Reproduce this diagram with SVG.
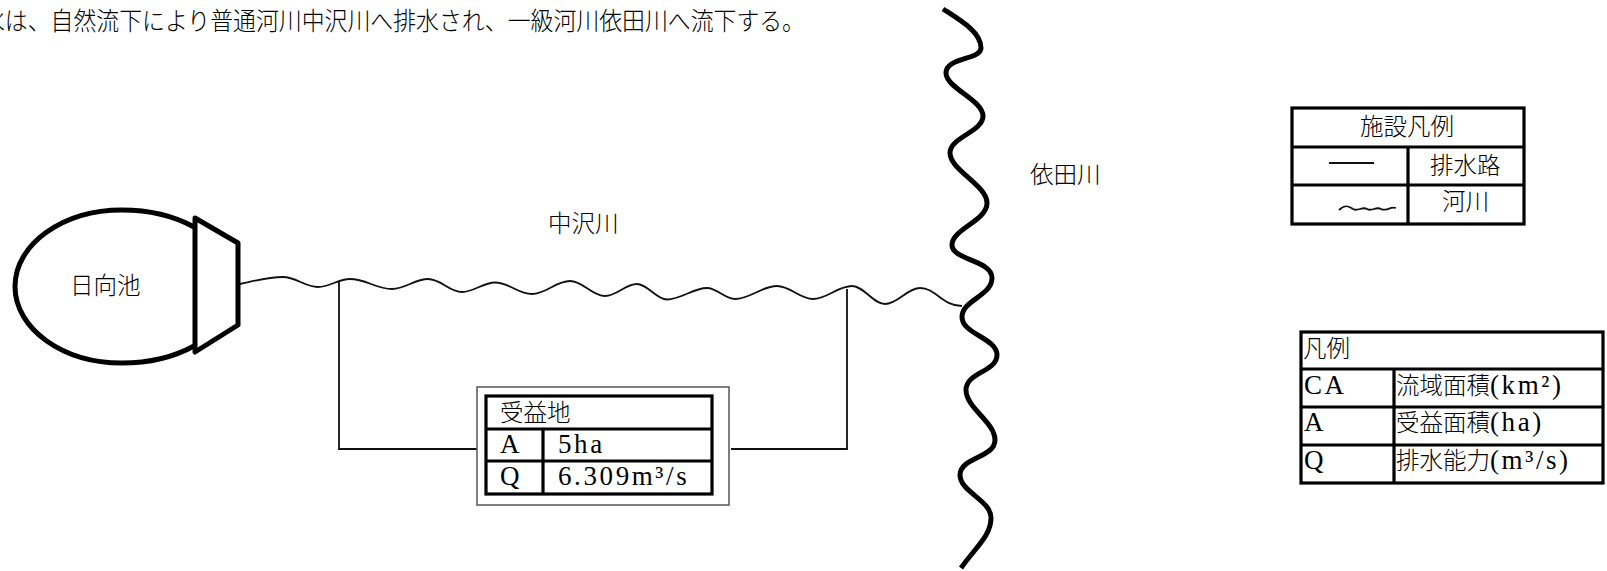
<svg xmlns="http://www.w3.org/2000/svg" width="1607" height="571" viewBox="0 0 1607 571">
<style>
text{font-family:"Noto Sans CJK JP","Noto Sans CJK SC",sans-serif;font-size:23.5px;font-weight:300;fill:#000}
.l{font-family:"Liberation Serif","Noto Sans CJK JP",serif;font-size:27px;font-weight:400;letter-spacing:2.6px}
.cell{fill:none;stroke:#000;stroke-width:3.2}
.thin{fill:none;stroke:#111;stroke-width:1.8}
.thick{fill:none;stroke:#000;stroke-width:5;stroke-linejoin:round}
</style>
<rect width="1607" height="571" fill="#fff"/>
<text id="caption" x="-18" y="30" font-size="25" style="font-size:25px" textLength="823" lengthAdjust="spacingAndGlyphs">水は、自然流下により普通河川中沢川へ排水され、一級河川依田川へ流下する。</text>
<g id="connectors">
<path id="nakazawa" class="thin" d="M240 284C258 280 268 277 283 277C296 277 305 287 318 287C330 287 338 279 350 279C366 279 376 289 392 289C405 289 415 279 428 279C441 279 449 292 462 292C474 292 483 282.500 495 282.500C509 282.500 518 294 532 294C546 294 556 281 570 281C583 281 592 296 605 296C617 296 625 284 637 284C648 284 656 299.500 667 299.500C681 299.500 693 288 707 288C717 288 725 299 735 299C750 299 762 286 777 286C790 286 800 299 813 299C827 299 838 286 852 286C864 286 873 304 885 304C898 304 907 288 920 288C936 288 942 306 962 306"/>
<path class="thin" d="M339 282V449H478"/>
<path class="thin" d="M731 449H847V289"/>
</g>
<g id="yoda-river">
<path class="thick" d="M943 9C960 20 981 32 981 48C981 60 946 57 946 73C946 88 983 100 983 116C983 132 950 137 950 153C950 170 987 185 987 203C987 221 952 229 952 245C952 260 992 260 992 278C992 296 962 300 962 317C962 334 997 338 997 355C997 372 966 372 966 390C966 408 995 422 995 440C995 458 960 457 960 475C960 492 991 500 991 518C991 536 975 548 961 568"/>
<text x="1030" y="183">依田川</text>
</g>
<g id="nakazawa-label"><text x="548" y="232">中沢川</text></g>
<g id="pond">
<path class="thick" d="M194 227C174 216 150 210 122 210C63 210 15 244 15 286.500C15 329 63 363 122 363C150 363 174 357 194 346"/>
<path class="thick" d="M195 218L238 243V325L195 352Z"/>
<text x="70" y="294">日向池</text>
</g>
<g id="beneficiary">
<rect x="477" y="387" width="252" height="118" fill="#fff" stroke="#555" stroke-width="1.500"/>
<rect class="cell" x="486" y="396" width="226" height="98"/>
<path class="cell" d="M486 429H712M486 461H712M543 429V494"/>
<text x="500" y="421">受益地</text>
<text class="l" x="500" y="453">A</text>
<text class="l" x="558" y="453">5ha</text>
<text class="l" x="500" y="485">Q</text>
<text class="l" x="558" y="485">6.309m³/s</text>
</g>
<g id="facility-legend">
<rect class="cell" x="1292" y="108" width="232" height="116"/>
<path class="cell" d="M1292 147H1524M1292 185H1524M1408 147V224"/>
<text x="1360" y="135">施設凡例</text>
<path class="thin" d="M1329 163H1374"/>
<text x="1430" y="174">排水路</text>
<path class="thin" d="M1339 210C1344 205 1348 205 1353 209C1358 212 1362 206 1367 209C1372 212 1376 206 1381 209C1386 212 1390 206 1396 208"/>
<text x="1442" y="210">河川</text>
</g>
<g id="legend">
<rect class="cell" x="1301" y="332" width="302" height="151"/>
<path class="cell" d="M1301 369H1603M1301 407H1603M1301 445H1603M1394 369V483"/>
<text x="1303" y="357">凡例</text>
<text class="l" x="1304" y="394">CA</text>
<text x="1396" y="394">流域面積<tspan class="l">(km²)</tspan></text>
<text class="l" x="1304" y="431">A</text>
<text x="1396" y="431">受益面積<tspan class="l">(ha)</tspan></text>
<text class="l" x="1304" y="469">Q</text>
<text x="1396" y="469">排水能力<tspan class="l">(m³/s)</tspan></text>
</g>
</svg>
